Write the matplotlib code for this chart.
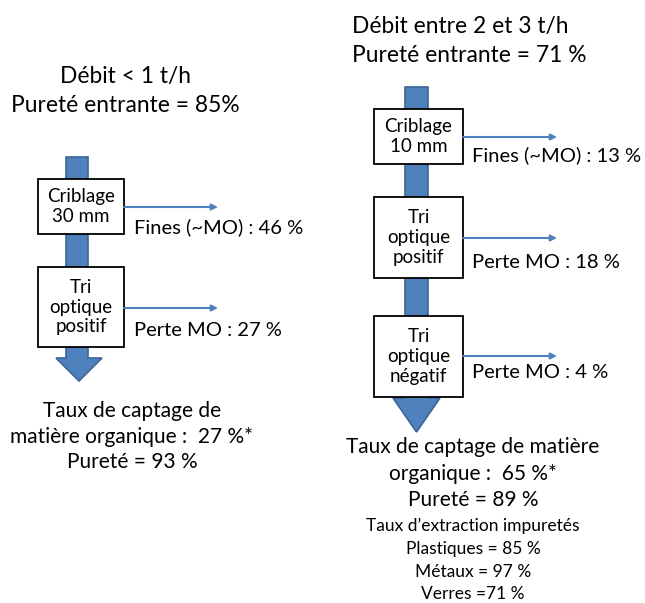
import matplotlib
matplotlib.use("Agg")
import matplotlib.pyplot as plt
from matplotlib.patches import Polygon, Rectangle

plt.rcParams['font.family'] = ['Lato', 'DejaVu Sans']

# ---- content ----
left_title = ["Débit < 1 t/h", "Pureté entrante = 85%"]
left_steps = ["Criblage\n30 mm", "Tri\noptique\npositif"]
left_labels = ["Fines (~MO) : 46 %", "Perte MO : 27 %"]
left_result = ["Taux de captage de", "matière organique :  27 %*", "Pureté = 93 %"]

right_title = ["Débit entre 2 et 3 t/h", "Pureté entrante = 71 %"]
right_steps = ["Criblage\n10 mm", "Tri\noptique\npositif", "Tri\noptique\nnégatif"]
right_labels = ["Fines (~MO) : 13 %", "Perte MO : 18 %", "Perte MO : 4 %"]
right_result = ["Taux de captage de matière", "organique :  65 %*", "Pureté = 89 %"]
right_extra = ["Taux d\u2019extraction impuretés", "Plastiques = 85 %", "Métaux = 97 %", "Verres =71 %"]

W, H = 645, 603
fig = plt.figure(figsize=(W / 100, H / 100), dpi=100)
ax = fig.add_axes([0, 0, 1, 1])
ax.set_xlim(0, W)
ax.set_ylim(H, 0)
ax.axis('off')

BLUE = '#4F81BD'
EDGE = '#3A6596'


def big_arrow(x0, x1, top, head_y, hx0, hx1, tip):
    cx = (hx0 + hx1) / 2
    pts = [(x0, top), (x1, top), (x1, head_y), (hx1, head_y), (cx, tip),
           (hx0, head_y), (x0, head_y)]
    ax.add_patch(Polygon(pts, closed=True, facecolor=BLUE, edgecolor=EDGE, lw=1.2, zorder=1))


def box(x0, y0, x1, y1, txt):
    ax.add_patch(Rectangle((x0, y0), x1 - x0, y1 - y0, facecolor='white',
                           edgecolor='black', lw=1.3, zorder=2))
    ax.text((x0 + x1) / 2, (y0 + y1) / 2, txt, ha='center', va='center',
            fontsize=13.5, linespacing=1.2, zorder=3)


def side_arrow(x0, x1, y):
    ax.annotate('', xy=(x1, y), xytext=(x0, y),
                arrowprops=dict(arrowstyle='-|>', color=BLUE, lw=1.5,
                                mutation_scale=9, shrinkA=0, shrinkB=0), zorder=2)


# ---- left diagram ----
ax.text(125, 77, left_title[0], ha='center', va='center', fontsize=16.4)
ax.text(125, 106, left_title[1], ha='center', va='center', fontsize=16.4)
big_arrow(66, 88, 157, 358, 56, 102, 381)
left_boxes = [(38, 179, 124, 234), (38, 267, 124, 347)]
left_arrow_y = [207, 308]
left_label_y = [227, 331]
for b, t, ay, lbl, ly in zip(left_boxes, left_steps, left_arrow_y, left_labels, left_label_y):
    box(*b, t)
    side_arrow(124, 218, ay)
    ax.text(134, ly, lbl, ha='left', va='center', fontsize=14.5)
for t, y in zip(left_result, [411, 437, 462]):
    ax.text(132, y, t, ha='center', va='center', fontsize=15)

# ---- right diagram ----
ax.text(352, 27, right_title[0], ha='left', va='center', fontsize=16.4)
ax.text(352, 56, right_title[1], ha='left', va='center', fontsize=16.4)
big_arrow(405, 428, 87, 398, 393, 440, 432)
right_boxes = [(374, 109, 463, 164), (374, 197, 463, 278), (374, 316, 463, 397)]
right_arrow_y = [137, 238, 356]
right_label_y = [155, 262, 373]
for b, t, ay, lbl, ly in zip(right_boxes, right_steps, right_arrow_y, right_labels, right_label_y):
    box(*b, t)
    side_arrow(463, 557, ay)
    ax.text(472, ly, lbl, ha='left', va='center', fontsize=14.5)
for t, y in zip(right_result, [447, 474, 500]):
    ax.text(473, y, t, ha='center', va='center', fontsize=15)
for t, y in zip(right_extra, [526, 549, 572, 594]):
    ax.text(473, y, t, ha='center', va='center', fontsize=12.5)

fig.savefig('out.png', dpi=100, facecolor='white')
